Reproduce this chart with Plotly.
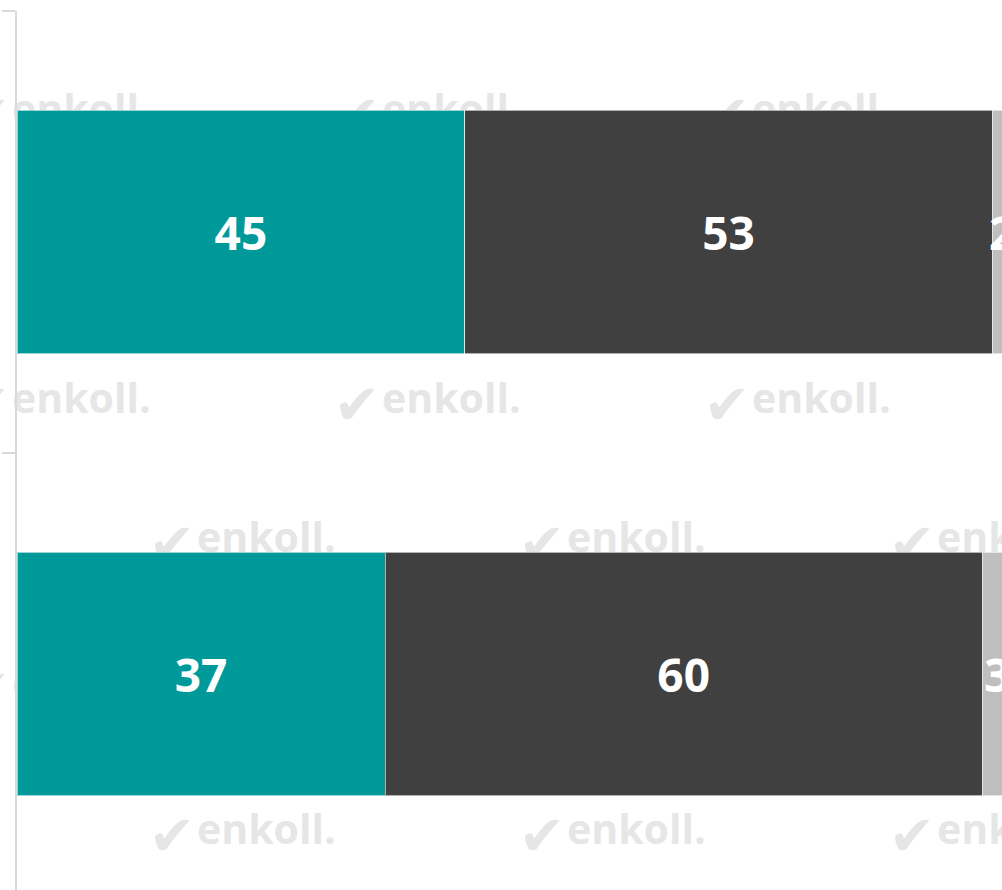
import plotly.graph_objects as go

categories = ["Grupo 1", "Grupo 2"]
series_names = ["Sí", "No", "NS/NC"]
values_a = [45, 37]
values_b = [53, 60]
values_c = [2, 3]
colors = ["#009999", "#404040", "#bfbfbf"]

W, H = 1002, 890
ML, MT = 17, 11
PW, PH = W - ML, H - MT

fig = go.Figure()
for name, vals, col in zip(series_names, [values_a, values_b, values_c], colors):
    fig.add_trace(go.Bar(
        y=categories, x=vals, name=name, orientation="h",
        marker=dict(color=col, line=dict(color="rgba(255,255,255,0.6)", width=1)),
        text=vals, textposition="inside", insidetextanchor="middle",
        constraintext="none",
        textfont=dict(family="Open Sans", size=46, color="white", weight="bold"),
        hoverinfo="skip",
    ))

def px2paper_x(px):
    return (px - ML) / PW

def px2paper_y(py):
    return (H - py) / PH

# watermark tiling (screen pixel positions)
rows = [(111, 0), (255, 185), (400, 0), (539, 185), (685, 0), (831, 185)]
shapes = []
for yc, off in rows:
    for k in range(-1, 3):
        ix = -35 + off + 370 * k
        if ix > W or ix + 190 < 0:
            continue
        shapes.append(dict(
            type="rect", xref="paper", yref="paper",
            x0=px2paper_x(ix - 4), x1=px2paper_x(ix + 48),
            y0=px2paper_y(yc + 30), y1=px2paper_y(yc - 30),
            line=dict(width=0), fillcolor="rgba(0,0,0,0)", layer="below",
            label=dict(text="✔", textposition="middle center", padding=0,
                       font=dict(family="DejaVu Sans", size=56, color="#e6e6e6")),
        ))
        shapes.append(dict(
            type="rect", xref="paper", yref="paper",
            x0=px2paper_x(ix + 44), x1=px2paper_x(ix + 190),
            y0=px2paper_y(yc + 22), y1=px2paper_y(yc - 22),
            line=dict(width=0), fillcolor="rgba(0,0,0,0)", layer="below",
            label=dict(text="enkoll.", textposition="middle left", padding=0,
                       font=dict(family="Open Sans", size=41, color="#e6e6e6", weight="bold")),
        ))

band = 442.0
fig.update_layout(
    width=W, height=H,
    margin=dict(l=ML, r=0, t=MT, b=0, pad=0, autoexpand=False),
    barmode="stack", bargap=0.448,
    showlegend=False,
    plot_bgcolor="rgba(0,0,0,0)", paper_bgcolor="white",
    shapes=shapes,
    xaxis=dict(range=[0, PW / 9.95], visible=False, showgrid=False, zeroline=False, automargin=False),
    yaxis=dict(
        range=[-0.5 + PH / band, -0.5], automargin=False,
        showticklabels=False, showgrid=False, zeroline=False,
        showline=True, linecolor="#d9d9d9", linewidth=2,
        ticks="outside", tickson="boundaries", ticklen=13, tickcolor="#d9d9d9", tickwidth=2,
    ),
)

fig.write_html(
    "out.html",
    config={"displayModeBar": False},
    post_script="document.body.style.margin='0';document.body.style.overflow='hidden';",
)
